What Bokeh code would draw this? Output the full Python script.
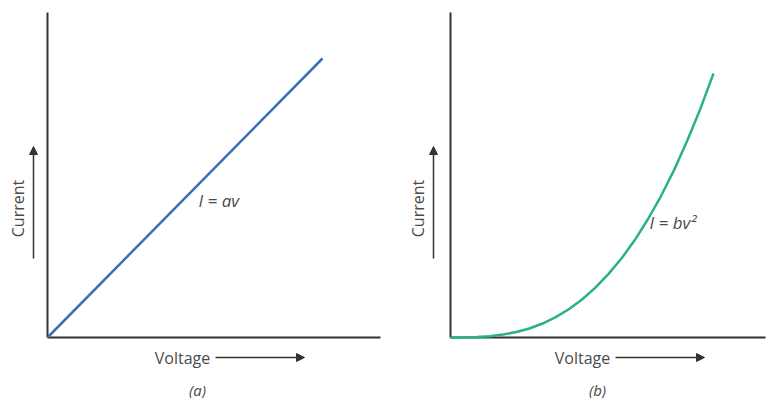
import math
from bokeh.plotting import figure
from bokeh.layouts import row
from bokeh.models import Range1d, Label, Arrow, NormalHead
from bokeh.embed import file_html
from bokeh.resources import INLINE

# ---- data (voltage and current in relative units) ----
voltage_a = [0.0, 1.0]
current_a = [0.0, 1.0]

voltage_b = [0.0, 0.05, 0.10, 0.15, 0.20, 0.25, 0.30, 0.35, 0.40, 0.45, 0.50,
             0.55, 0.60, 0.65, 0.70, 0.75, 0.80, 0.85, 0.90, 0.95, 1.00]
current_b = [0.0, 0.0002, 0.0016, 0.005, 0.011, 0.021, 0.034, 0.053, 0.077, 0.107, 0.144,
             0.188, 0.240, 0.299, 0.368, 0.447, 0.535, 0.634, 0.745, 0.866, 1.000]

label_a = "I = av"
label_b = "I = bv\u00b2"
axis_y_text = "Current"
axis_x_text = "Voltage"
captions = ["(a)", "(b)"]

FONT = "Open Sans"
TXT = "#4a4a4a"
AX = "#333333"
H = 398


def make_panel(fig_left, width, ox, oy, px_per_v, px_per_i):
    """ox, oy: window pixel of the data origin; scale = pixels per unit."""
    lx = ox - fig_left
    p = figure(width=width, height=H,
               x_range=Range1d(-lx / px_per_v, (width - lx) / px_per_v),
               y_range=Range1d(-(H - oy) / px_per_i, oy / px_per_i),
               output_backend="svg", toolbar_location=None,
               min_border=0)
    p.grid.visible = False
    p.axis.visible = False
    p.outline_line_color = None

    def d(px, py):
        return ((px - ox) / px_per_v, (oy - py) / px_per_i)
    return p, d


p1, d1 = make_panel(0, 400, 47, 337, 275, 279)
p2, d2 = make_panel(400, 367, 450, 337, 263, 264)


def decorate(p, d, ax_left, ax_right, ylab_x, arrow_x, volt_cx, arr_x0, arr_x1, cap_cx,
             eq_left, eq_y, eq_text, cap):
    # axis lines
    x0, y0 = d(ax_left, 337)
    x1, y1 = d(ax_right, 337)
    xt, yt = d(ax_left, 12)
    p.segment(x0=[x0, x0], y0=[y0, y0], x1=[x1, xt], y1=[y1, yt],
              line_color=AX, line_width=2)
    x, y = d(ylab_x, 208)
    p.add_layout(Label(x=x, y=y, text=axis_y_text, angle=math.pi / 2, text_align="center",
                       text_baseline="middle", text_font=FONT, text_font_size="16px",
                       text_color=TXT))
    xs, ys = d(arrow_x, 258)
    xe, ye = d(arrow_x, 146)
    p.add_layout(Arrow(x_start=xs, y_start=ys, x_end=xe, y_end=ye, line_color=AX,
                       line_width=1.5,
                       end=NormalHead(size=8, fill_color=AX, line_color=AX)))
    x, y = d(volt_cx, 357)
    p.add_layout(Label(x=x, y=y, text=axis_x_text, text_align="center",
                       text_baseline="middle", text_font=FONT, text_font_size="16px",
                       text_color=TXT))
    xs, ys = d(arr_x0, 357)
    xe, ye = d(arr_x1, 357)
    p.add_layout(Arrow(x_start=xs, y_start=ys, x_end=xe, y_end=ye, line_color=AX,
                       line_width=1.5,
                       end=NormalHead(size=8, fill_color=AX, line_color=AX)))
    x, y = d(cap_cx, 389)
    p.add_layout(Label(x=x, y=y, text=cap, text_align="center", text_baseline="middle",
                       text_font=FONT, text_font_size="15px", text_font_style="italic",
                       text_color=TXT))
    x, y = d(eq_left, eq_y)
    p.add_layout(Label(x=x, y=y, text=eq_text, text_align="left", text_baseline="middle",
                       text_font=FONT, text_font_size="17px", text_font_style="italic",
                       text_color=TXT))


decorate(p1, d1, 47, 380, 17, 33, 182, 215, 304, 197, 198, 200, label_a, captions[0])
decorate(p2, d2, 450, 765, 417, 433, 582, 615, 704, 597, 649, 222, label_b, captions[1])

p1.line(voltage_a, current_a, line_color="#3a6fb5", line_width=2.5)
p2.line(voltage_b, current_b, line_color="#2bb08c", line_width=2.5)

layout = row(p1, p2)
open("out.html", "w").write(file_html(layout, INLINE))
